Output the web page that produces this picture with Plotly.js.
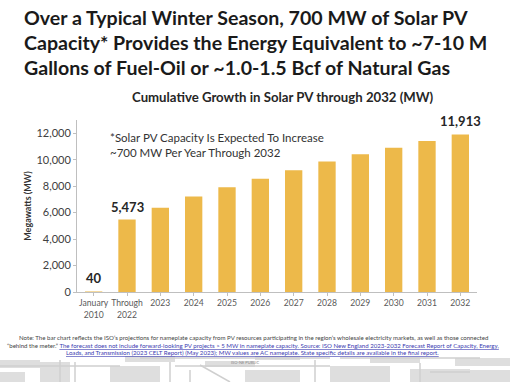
<!DOCTYPE html>
<html>
<head>
<meta charset="utf-8">
<script src="https://cdn.plot.ly/plotly-3.0.1.min.js"></script>
<style>html,body{margin:0;padding:0;background:#fff;}#chart{width:510px;height:382px;}</style>
</head>
<body>
<div id="chart"></div>
<script>
// ---- data ----
const categories = ["January<br>2010", "Through<br>2022", "2023", "2024", "2025", "2026", "2027", "2028", "2029", "2030", "2031", "2032"];
const capacityMW = [40, 5473, 6360, 7210, 7920, 8560, 9210, 9860, 10420, 10910, 11420, 11913];
const labeledIdx = [0, 1, 11];
const yTicks = [0, 2000, 4000, 6000, 8000, 10000, 12000];

const W = 510, H = 382;
const M = {l: 77, r: 33, t: 120, b: 90};
const pw = W - M.l - M.r, ph = H - M.t - M.b;
const px = x => (x - M.l) / pw;
const py = y => (H - M.b - y) / ph;

const FONT = "Lato, 'Open Sans', sans-serif";
const idx = categories.map((c, i) => i);

const trace = {
  type: "bar",
  x: idx,
  y: capacityMW,
  marker: {color: "#EDB94A"},
  width: 0.52,
  hoverinfo: "none"
};

const annotations = [];
labeledIdx.forEach(i => {
  annotations.push({
    x: idx[i], y: capacityMW[i], xref: "x", yref: "y",
    text: "<b>" + capacityMW[i].toLocaleString("en-US") + "</b>",
    showarrow: false, yanchor: "bottom", yshift: 3,
    font: {family: FONT, size: 13, color: "#262626"}
  });
});

// title lines
const titleLines = [
  "Over a Typical Winter Season, 700 MW of Solar PV",
  "Capacity* Provides the Energy Equivalent to ~7-10 M",
  "Gallons of Fuel-Oil or ~1.0-1.5 Bcf of Natural Gas"
];
titleLines.forEach((t, k) => {
  annotations.push({
    xref: "paper", yref: "paper", x: px(22), y: py(17 + k * 25.5),
    xanchor: "left", yanchor: "middle", showarrow: false,
    text: "<b>" + t + "</b>",
    font: {family: FONT, size: 19.6, color: "#1a1a1a"}
  });
});

annotations.push({
  xref: "paper", yref: "paper", x: px(283), y: py(97),
  xanchor: "center", yanchor: "middle", showarrow: false,
  text: "<b>Cumulative Growth in Solar PV through 2032 (MW)</b>",
  font: {family: FONT, size: 13.2, color: "#262626"}
});

annotations.push({
  xref: "paper", yref: "paper", x: px(108), y: py(144.5),
  xanchor: "left", yanchor: "middle", showarrow: false, align: "left",
  text: "*Solar PV Capacity Is Expected To Increase<br>~700 MW Per Year Through 2032",
  font: {family: FONT, size: 11.5, color: "#333333"}
});

// footer note
const note1 = "Note: The bar chart reflects the ISO\u2019s projections for nameplate capacity from PV resources participating in the region\u2019s wholesale electricity markets, as well as those connected";
const note2a = "\u201cbehind the meter.\u201d ";
const note2b = "The forecast does not include forward-looking PV projects > 5 MW in nameplate capacity. Source: ISO New England 2023-2032 Forecast Report of Capacity, Energy,";
const note3 = "Loads, and Transmission (2023 CELT Report) (May 2023); MW values are AC nameplate. State specific details are available in the final report.";
const noteFont = {family: FONT, size: 6.1, color: "#444444"};
annotations.push({xref: "paper", yref: "paper", x: px(253), y: py(337.5), showarrow: false,
  xanchor: "center", yanchor: "middle", text: note1, font: noteFont});
annotations.push({xref: "paper", yref: "paper", x: px(253), y: py(345), showarrow: false,
  xanchor: "center", yanchor: "middle",
  text: note2a + "<span style='color:#3b3bb0;text-decoration:underline'>" + note2b + "</span>", font: noteFont});
annotations.push({xref: "paper", yref: "paper", x: px(252), y: py(352.5), showarrow: false,
  xanchor: "center", yanchor: "middle",
  text: "<span style='color:#3b3bb0;text-decoration:underline'>" + note3 + "</span>", font: noteFont});
annotations.push({xref: "paper", yref: "paper", x: px(245), y: py(362), showarrow: false,
  xanchor: "center", yanchor: "middle", text: "ISO-NE PUBLIC",
  font: {family: FONT, size: 4, color: "#888888"}});

// decorative background strip (light gray circuit-like pattern)
const shapes = [];
const rects = [[0,360,40,368],[40,362,70,382],[110,366,160,382],[125,356,175,362],[205,361,255,367],[245,370,300,382],[255,356,300,360],[330,366,390,382],[370,357,420,363],[410,369,470,382],[455,358,510,366],[0,372,25,382],[470,370,510,382]];
rects.forEach(r => shapes.push({type: "rect", xref: "paper", yref: "paper", layer: "below",
  x0: px(r[0]), x1: px(r[2]), y0: py(r[1]), y1: py(r[3]), fillcolor: "#dedede", line: {width: 0}}));
const lines = [[0,366,120,366],[60,360,60,382],[75,362,75,382],[170,362,170,382],[175,366,300,366],[190,370,190,382],[200,365,230,382],[300,366,330,366],[315,360,315,382],[420,363,420,382],[430,372,470,372],[140,358,330,358],[340,358,480,358]];
lines.forEach(l => shapes.push({type: "line", xref: "paper", yref: "paper", layer: "below",
  x0: px(l[0]), x1: px(l[2]), y0: py(l[1]), y1: py(l[3]), line: {color: "#cfcfcf", width: 1.5}}));

const layout = {
  width: W, height: H,
  margin: M,
  paper_bgcolor: "#ffffff", plot_bgcolor: "#ffffff",
  showlegend: false,
  font: {family: FONT, color: "#404040"},
  xaxis: {
    range: [-0.5, categories.length - 0.5],
    tickvals: idx,
    ticktext: categories,
    showgrid: false, zeroline: false,
    showline: true, linecolor: "#bfbfbf", linewidth: 1,
    ticks: "outside", ticklen: 3, tickcolor: "#bfbfbf",
    tickfont: {family: FONT, size: 8.6, color: "#595959"},
    tickangle: 0
  },
  yaxis: {
    range: [0, 13000],
    tickvals: yTicks,
    ticktext: yTicks.map(v => v.toLocaleString("en-US")),
    showgrid: false, zeroline: false,
    showline: true, linecolor: "#bfbfbf", linewidth: 1,
    ticks: "outside", ticklen: 3, tickcolor: "#bfbfbf",
    tickfont: {family: FONT, size: 11, color: "#404040"},
    title: {text: "<b>Megawatts (MW)</b>", font: {family: FONT, size: 9, color: "#333333"}, standoff: 3}
  },
  annotations: annotations,
  shapes: shapes
};

Plotly.newPlot("chart", [trace], layout, {displayModeBar: false, staticPlot: true});
</script>
</body>
</html>
